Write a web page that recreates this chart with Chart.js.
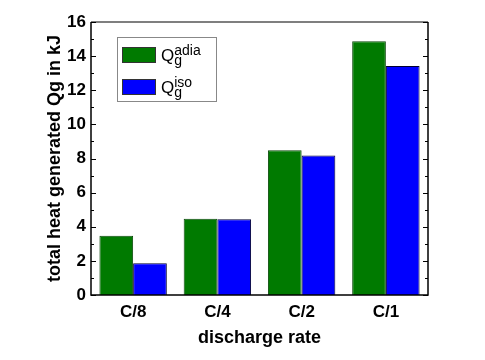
<!DOCTYPE html>
<html>
<head>
<meta charset="utf-8">
<script src="https://cdn.jsdelivr.net/npm/chart.js@4/dist/chart.umd.min.js"></script>
<style>
  html, body { margin: 0; padding: 0; background: #fff; }
  #chart { display: block; }
</style>
</head>
<body>
<canvas id="chart" width="485" height="360"></canvas>
<script>
// discharge rates and heat generated (kJ)
const rates = ['C/8', 'C/4', 'C/2', 'C/1'];
const qAdia = [3.47, 4.47, 8.48, 14.87];
const qIso = [1.86, 4.44, 8.17, 13.42];
const seriesSup = ['adia', 'iso'];
const yTicks = [0, 2, 4, 6, 8, 10, 12, 14, 16];

const FONT = 'Arial, "Liberation Sans", sans-serif';

// frame around the plot + inward ticks on left and right
const framePlugin = {
  id: 'frame',
  afterDraw(chart) {
    const { ctx, chartArea: a, scales } = chart;
    const y = scales.y;
    ctx.save();
    ctx.strokeStyle = '#000';
    ctx.lineWidth = 1.5;
    ctx.beginPath();
    ctx.moveTo(a.left, a.top);
    ctx.lineTo(a.left, a.bottom);
    ctx.lineTo(a.right, a.bottom);
    ctx.lineTo(a.right, a.top);
    ctx.stroke();
    ctx.strokeStyle = '#555';
    ctx.beginPath();
    ctx.moveTo(a.left, a.top);
    ctx.lineTo(a.right, a.top);
    ctx.stroke();

    ctx.strokeStyle = '#000';
    ctx.lineWidth = 1;
    for (let v = 0; v <= 16; v += 1) {
      const py = Math.round(y.getPixelForValue(v)) + 0.5;
      const len = v % 2 === 0 ? 5 : 3;
      ctx.beginPath();
      ctx.moveTo(a.left, py);
      ctx.lineTo(a.left + len, py);
      ctx.moveTo(a.right, py);
      ctx.lineTo(a.right - len, py);
      ctx.stroke();
    }
    ctx.restore();
  }
};

// legend with sub/superscripts
const legendPlugin = {
  id: 'qlegend',
  afterDraw(chart) {
    const { ctx } = chart;
    ctx.save();
    ctx.strokeStyle = '#888';
    ctx.lineWidth = 1;
    ctx.strokeRect(117.5, 37.5, 99, 64);
    chart.data.datasets.forEach((ds, i) => {
      const top = 47 + i * 32;
      ctx.fillStyle = ds.backgroundColor;
      ctx.fillRect(122, top, 34, 16);
      ctx.strokeStyle = '#333';
      ctx.strokeRect(122.5, top + 0.5, 33, 15);
      const base = top + 14;
      ctx.fillStyle = '#000';
      ctx.textBaseline = 'alphabetic';
      ctx.font = '17px ' + FONT;
      ctx.fillText('Q', 161, base);
      const qw = ctx.measureText('Q').width;
      ctx.font = '14px ' + FONT;
      ctx.fillText('g', 161 + qw, base + 4);
      ctx.fillText(seriesSup[i], 161 + qw, base - 6);
    });
    ctx.restore();
  }
};

new Chart(document.getElementById('chart'), {
  type: 'bar',
  data: {
    labels: rates,
    datasets: [
      { label: 'Qg adia', data: qAdia, backgroundColor: '#007a00', borderColor: '#0c4a0c', borderWidth: 1 },
      { label: 'Qg iso', data: qIso, backgroundColor: '#0000ff', borderColor: '#000033', borderWidth: 1 }
    ]
  },
  options: {
    responsive: false,
    animation: false,
    layout: { padding: { left: 0, right: 57, top: 22, bottom: 0 } },
    plugins: { legend: { display: false }, tooltip: { enabled: false } },
    datasets: { bar: { barPercentage: 1.0, categoryPercentage: 0.8 } },
    scales: {
      x: {
        grid: { display: false, drawTicks: false },
        border: { display: false },
        ticks: { color: '#000', padding: 7, font: { family: FONT, size: 17, weight: 'bold' } },
        title: {
          display: true, text: 'discharge rate', color: '#000',
          font: { family: FONT, size: 18, weight: 'bold' },
          padding: { top: 0, bottom: 11 }
        },
        afterFit(scale) { scale.height = 65; }
      },
      y: {
        min: 0, max: 16,
        afterBuildTicks(scale) { scale.ticks = yTicks.map(v => ({ value: v })); },
        grid: { display: false, drawTicks: false },
        border: { display: false },
        ticks: { color: '#000', padding: 5, font: { family: FONT, size: 17, weight: 'bold' } },
        title: {
          display: true, text: 'total heat generated Qg in kJ', color: '#000',
          font: { family: FONT, size: 18, weight: 'bold' },
          padding: { top: 44, bottom: 0 }
        },
        afterFit(scale) { scale.width = 91; }
      }
    }
  },
  plugins: [framePlugin, legendPlugin]
});
</script>
</body>
</html>
